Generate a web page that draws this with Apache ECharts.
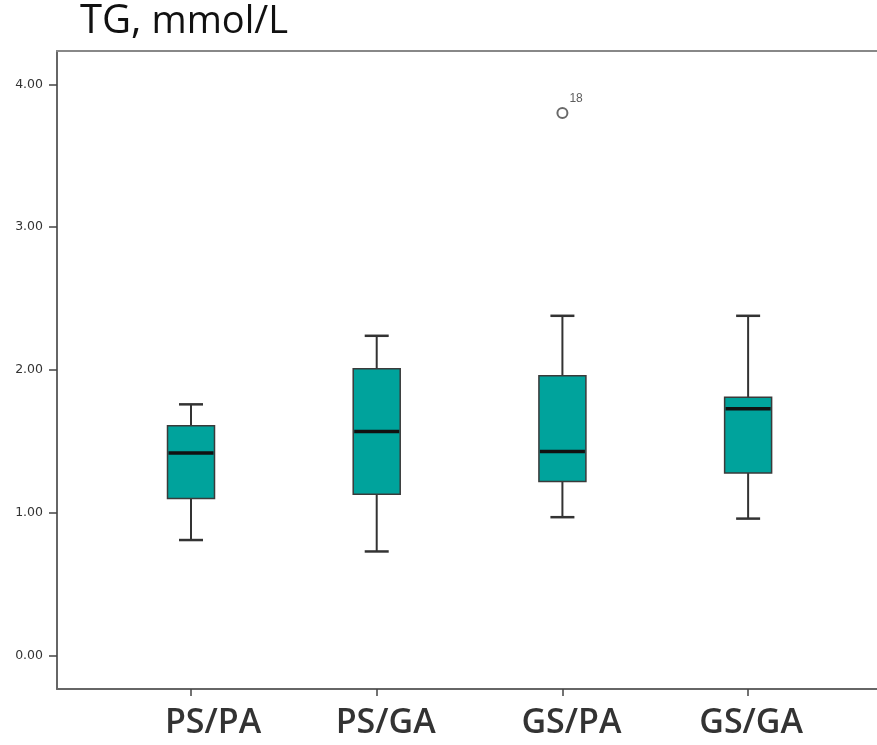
<!DOCTYPE html>
<html>
<head>
<meta charset="utf-8">
<script src="https://cdn.jsdelivr.net/npm/echarts@6/dist/echarts.min.js"></script>
<style>
  html, body { margin: 0; padding: 0; background: #fff; }
  #main { width: 877px; height: 745px; }
</style>
</head>
<body>
<div id="main"></div>
<script>
// 分组
var categories = ['PS/PA', 'PS/GA', 'GS/PA', 'GS/GA'];
// 箱线图五数
var minVals = [0.81, 0.73, 0.97, 0.96];
var q1Vals = [1.10, 1.13, 1.22, 1.28];
var medVals = [1.42, 1.57, 1.43, 1.73];
var q3Vals = [1.61, 2.01, 1.96, 1.81];
var maxVals = [1.76, 2.24, 2.38, 2.38];
// 离群点 [组, 值, 编号]
var outliers = [[2, 3.80, '18']];
var yTicks = [0, 1, 2, 3, 4];

var boxData = categories.map(function (c, i) {
  return [i, minVals[i], q1Vals[i], medVals[i], q3Vals[i], maxVals[i]];
});

var BOX_W = 47, CAP_W = 24;
var X_MIN = -0.7216, X_MAX = 3.694;

// 标签略偏右（原图手工贴上的文字）
var labelStyle = { fontFamily: 'Open Sans', fontSize: 34, fontWeight: 600, color: '#333' };
var labelRich = {
  c0: Object.assign({ padding: [0, 0, 0, 44] }, labelStyle),
  c1: Object.assign({ padding: [0, 0, 0, 18] }, labelStyle),
  c2: Object.assign({ padding: [0, 0, 0, 18] }, labelStyle),
  c3: Object.assign({ padding: [0, 0, 0, 6] }, labelStyle)
};

function renderBox(params, api) {
  var x = api.value(0);
  var pMin = api.coord([x, api.value(1)]);
  var pQ1 = api.coord([x, api.value(2)]);
  var pMed = api.coord([x, api.value(3)]);
  var pQ3 = api.coord([x, api.value(4)]);
  var pMax = api.coord([x, api.value(5)]);
  var cx = pMed[0];
  var line = { stroke: '#333', lineWidth: 2 };
  return {
    type: 'group',
    children: [
      { type: 'line', shape: { x1: cx, y1: pMax[1], x2: cx, y2: pQ3[1] }, style: line },
      { type: 'line', shape: { x1: cx, y1: pQ1[1], x2: cx, y2: pMin[1] }, style: line },
      { type: 'line', shape: { x1: cx - CAP_W / 2, y1: pMax[1], x2: cx + CAP_W / 2, y2: pMax[1] }, style: { stroke: '#333', lineWidth: 2.5 } },
      { type: 'line', shape: { x1: cx - CAP_W / 2, y1: pMin[1], x2: cx + CAP_W / 2, y2: pMin[1] }, style: { stroke: '#333', lineWidth: 2.5 } },
      { type: 'rect', shape: { x: cx - BOX_W / 2, y: pQ3[1], width: BOX_W, height: pQ1[1] - pQ3[1] },
        style: { fill: '#00a39c', stroke: '#3a3a3a', lineWidth: 1.5 } },
      { type: 'line', shape: { x1: cx - BOX_W / 2 + 1, y1: pMed[1], x2: cx + BOX_W / 2 - 1, y2: pMed[1] },
        style: { stroke: '#111', lineWidth: 3.5 } }
    ]
  };
}

var chart = echarts.init(document.getElementById('main'));
chart.setOption({
  backgroundColor: '#fff',
  animation: false,
  title: {
    text: '{a|TG,}{b|mmol/L}',
    left: 75,
    top: -3,
    textStyle: {
      rich: {
        a: { fontFamily: 'Open Sans', fontSize: 40, fontWeight: 'normal', color: '#111' },
        b: { fontFamily: 'Open Sans', fontSize: 38, fontWeight: 'normal', color: '#111', padding: [0, 0, 0, 10] }
      }
    }
  },
  grid: { left: 57, top: 51, right: 0, bottom: 56 },
  xAxis: [
    {
      type: 'value',
      min: X_MIN,
      max: X_MAX,
      splitLine: { show: false },
      axisLine: { show: true, onZero: false, lineStyle: { color: '#666', width: 2 } },
      axisTick: { show: true, length: 7, customValues: [0, 1, 2, 3], lineStyle: { color: '#444', width: 1.5 } },
      axisLabel: {
        customValues: [0, 1, 2, 3],
        formatter: function (v) {
          var i = Math.round(v);
          return '{c' + i + '|' + categories[i] + '}';
        },
        rich: labelRich,
        margin: 17
      }
    },
    {
      // 顶部边框
      type: 'value',
      position: 'top',
      min: X_MIN,
      max: X_MAX,
      splitLine: { show: false },
      axisLine: { show: true, onZero: false, lineStyle: { color: '#888', width: 2 } },
      axisTick: { show: false },
      axisLabel: { show: false }
    }
  ],
  yAxis: {
    type: 'value',
    min: -0.233,
    max: 4.234,
    splitLine: { show: false },
    axisLine: { show: true, onZero: false, lineStyle: { color: '#666', width: 2 } },
    axisTick: { show: true, length: 8, customValues: yTicks, lineStyle: { color: '#444', width: 1.5 } },
    axisLabel: {
      customValues: yTicks,
      formatter: function (v) { return v.toFixed(2); },
      margin: 14,
      fontFamily: 'DejaVu Sans',
      fontSize: 12.5,
      color: '#333'
    }
  },
  series: [
    {
      type: 'custom',
      renderItem: renderBox,
      data: boxData,
      encode: { x: 0, y: [1, 2, 3, 4, 5] },
      z: 3
    },
    {
      type: 'scatter',
      data: outliers,
      symbol: 'emptyCircle',
      symbolSize: 10,
      itemStyle: { color: '#444', borderColor: '#444', borderWidth: 1.8 },
      label: {
        show: true,
        formatter: function (p) { return p.data[2]; },
        position: [13, -14],
        fontFamily: 'Liberation Sans',
        fontSize: 12,
        color: '#333'
      },
      z: 4
    }
  ]
});
</script>
</body>
</html>
